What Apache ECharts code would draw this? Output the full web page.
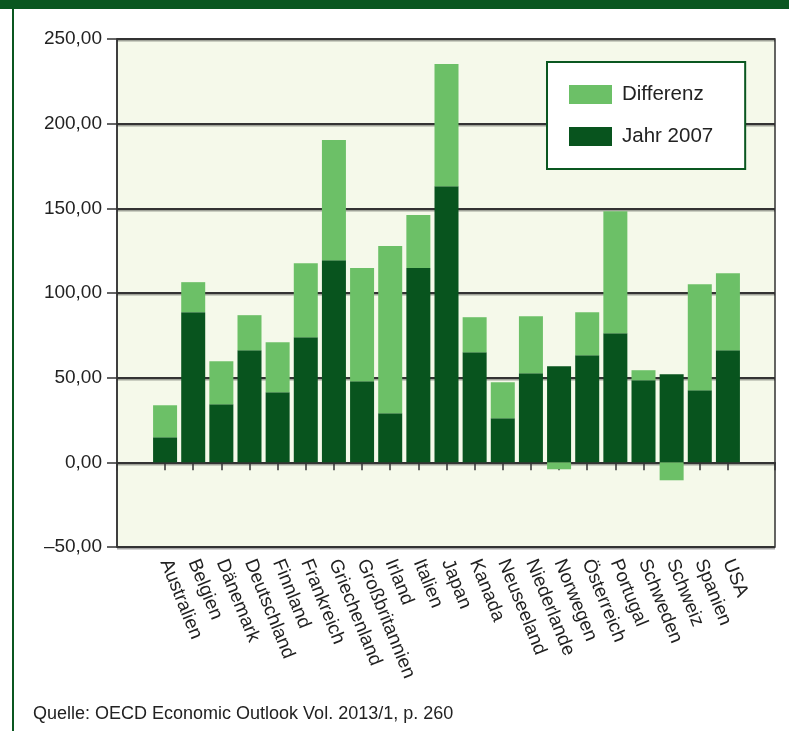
<!DOCTYPE html>
<html>
<head>
<meta charset="utf-8">
<script src="https://cdn.jsdelivr.net/npm/echarts@6/dist/echarts.min.js"></script>
<style>
  html, body { margin: 0; padding: 0; background: #ffffff; }
  #chart { width: 789px; height: 731px; }
</style>
</head>
<body>
<div id="chart"></div>
<script>
// Countries on the category axis
const categories = [
  'Australien', 'Belgien', 'Dänemark', 'Deutschland', 'Finnland', 'Frankreich',
  'Griechenland', 'Großbritannien', 'Irland', 'Italien', 'Japan', 'Kanada',
  'Neuseeland', 'Niederlande', 'Norwegen', 'Österreich', 'Portugal',
  'Schweden', 'Schweiz', 'Spanien', 'USA'
];

// Level in 2007 (dark segment)
const jahr2007 = [
  14.8, 88.7, 34.3, 66.2, 41.4, 73.9,
  119.4, 47.9, 29.0, 114.7, 163.1, 65.0,
  26.0, 52.6, 56.7, 63.2, 76.2,
  48.5, 52.0, 42.6, 66.2
];

// Change since 2007 (light segment, stacked on top; negatives hang below zero)
const differenz = [
  18.9, 17.7, 25.4, 20.7, 29.5, 43.7,
  70.9, 66.8, 98.7, 31.3, 72.1, 20.7,
  21.3, 33.7, -4.1, 25.5, 72.1,
  5.9, -10.6, 62.6, 45.5
];

// Value axis ticks
const yMin = -50;
const yMax = 250;
const yStep = 50;

const sourceText = 'Quelle: OECD Economic Outlook Vol. 2013/1, p. 260';

const DARK = '#08541e';
const LIGHT = '#6cc067';
const FRAME = '#0a5720';
const INK = '#222222';
const FONT = '"Liberation Sans", Arial, Helvetica, sans-serif';

function fmt(v) {
  const s = Math.abs(v).toFixed(2).replace('.', ',');
  return v < 0 ? '\u2013' + s : s;
}

const chart = echarts.init(document.getElementById('chart'), null, { renderer: 'canvas' });

chart.setOption({
  animation: false,
  textStyle: { fontFamily: FONT },
  grid: [
    {
      // frame, background and value scale
      left: 117, right: 14, top: 39, bottom: 184,
      show: true,
      backgroundColor: '#f5f9ea',
      borderColor: '#333333',
      borderWidth: 1.5
    },
    {
      // bars, inset from the frame on both sides
      left: 151, width: 591, top: 39, bottom: 184
    }
  ],
  xAxis: [
    {
      gridIndex: 0,
      type: 'value',
      min: 0, max: 1, interval: 1,
      axisLine: { show: true, lineStyle: { color: '#333333', width: 2 } },
      axisTick: { show: true, length: 8, lineStyle: { color: '#333333', width: 1.5 } },
      axisLabel: { show: false },
      splitLine: { show: false }
    },
    {
      gridIndex: 1,
      type: 'category',
      data: categories,
      axisLine: { show: false },
      axisTick: { show: true, alignWithLabel: true, length: 8, lineStyle: { color: '#333333', width: 1.5 } },
      axisLabel: {
        interval: 0,
        rotate: -68,
        margin: 13,
        fontSize: 19,
        color: INK,
        fontFamily: FONT,
        padding: [14, 0, 0, 0]
      },
      splitLine: { show: false }
    }
  ],
  yAxis: [
    {
      gridIndex: 0,
      type: 'value',
      min: yMin, max: yMax, interval: yStep,
      axisLine: { show: true, lineStyle: { color: '#333333', width: 1.5 } },
      axisTick: { show: true, length: 10, lineStyle: { color: '#333333', width: 1.5 } },
      axisLabel: {
        margin: 15,
        fontSize: 19,
        color: INK,
        fontFamily: FONT,
        formatter: fmt
      },
      splitLine: {
        show: true,
        lineStyle: {
          color: '#333333', width: 2,
          shadowColor: 'rgba(0,0,0,0.35)', shadowOffsetY: 1.5, shadowBlur: 0
        }
      }
    },
    {
      gridIndex: 1,
      type: 'value',
      min: yMin, max: yMax, interval: yStep,
      show: false
    }
  ],
  legend: {
    data: ['Differenz', 'Jahr 2007'],
    orient: 'vertical',
    left: 547,
    top: 62,
    padding: [22, 32, 22, 22],
    itemWidth: 43,
    itemHeight: 19,
    itemGap: 21,
    icon: 'rect',
    selectedMode: false,
    backgroundColor: '#ffffff',
    borderColor: FRAME,
    borderWidth: 2,
    textStyle: { fontSize: 20.5, color: INK, fontFamily: FONT, padding: [0, 0, 0, 5] }
  },
  series: [
    {
      name: 'Jahr 2007',
      type: 'bar',
      xAxisIndex: 1,
      yAxisIndex: 1,
      stack: 'gesamt',
      barWidth: 24,
      itemStyle: { color: DARK },
      data: jahr2007
    },
    {
      name: 'Differenz',
      type: 'bar',
      xAxisIndex: 1,
      yAxisIndex: 1,
      stack: 'gesamt',
      barWidth: 24,
      itemStyle: { color: LIGHT },
      data: differenz
    }
  ],
  graphic: [
    { type: 'rect', left: 0, top: 0, shape: { width: 789, height: 9 }, style: { fill: FRAME }, silent: true },
    { type: 'rect', left: 12, top: 0, shape: { width: 2, height: 731 }, style: { fill: FRAME }, silent: true },
    {
      type: 'text',
      left: 33,
      top: 705,
      style: { text: sourceText, fill: INK, font: '18px ' + FONT }
    }
  ]
});
</script>
</body>
</html>
